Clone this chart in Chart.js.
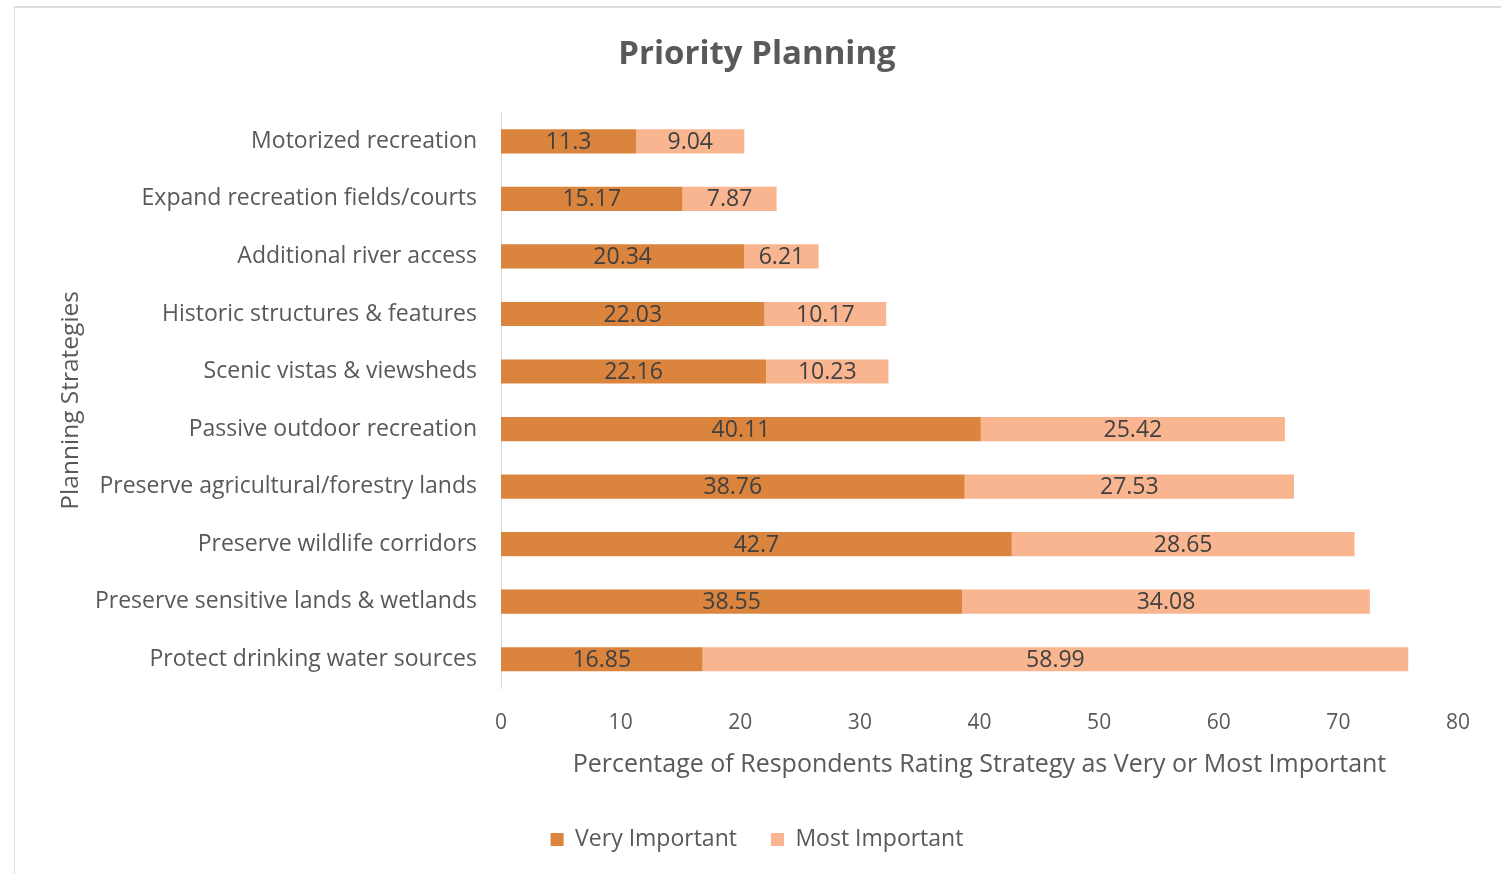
<!DOCTYPE html>
<html>
<head>
<meta charset="utf-8">
<title>Priority Planning</title>
<script src="https://cdn.jsdelivr.net/npm/chart.js@4.4.1/dist/chart.umd.min.js"></script>
<style>
  html, body { margin: 0; padding: 0; background: #fff; }
  #wrap { position: relative; width: 1501px; height: 874px; overflow: hidden; }
  #frame { position: absolute; left: 14px; top: 6px; right: -2px; bottom: -2px;
           border-top: 2px solid #dcdcdc; border-left: 1px solid #dcdcdc; }
  #chart { position: absolute; left: 0; top: 0; }
</style>
</head>
<body>
<div id="wrap">
  <div id="frame"></div>
  <canvas id="chart" width="1501" height="874"></canvas>
</div>
<script>
// Priority Planning - stacked horizontal bars

var strategies = [
  'Motorized recreation',
  'Expand recreation fields/courts',
  'Additional river access',
  'Historic structures & features',
  'Scenic vistas & viewsheds',
  'Passive outdoor recreation',
  'Preserve agricultural/forestry lands',
  'Preserve wildlife corridors',
  'Preserve sensitive lands & wetlands',
  'Protect drinking water sources'
];
var veryImportant = [11.3, 15.17, 20.34, 22.03, 22.16, 40.11, 38.76, 42.7, 38.55, 16.85];
var mostImportant = [9.04, 7.87, 6.21, 10.17, 10.23, 25.42, 27.53, 28.65, 34.08, 58.99];
var xTicks = [0, 10, 20, 30, 40, 50, 60, 70, 80];

var FONT = "'Open Sans', 'Noto Sans', sans-serif";
var TEXT = '#595959';
var DARK = '#DB843D';
var LIGHT = '#F8B58F';

// labels in the middle of each segment
var segmentLabels = {
  id: 'segmentLabels',
  afterDatasetsDraw: function (chart) {
    var ctx = chart.ctx;
    ctx.save();
    ctx.fillStyle = '#404040';
    ctx.font = '23px ' + FONT;
    ctx.textAlign = 'center';
    ctx.textBaseline = 'middle';
    chart.data.datasets.forEach(function (ds, di) {
      chart.getDatasetMeta(di).data.forEach(function (bar, i) {
        var p = bar.getProps(['x', 'y', 'base'], true);
        ctx.fillText(String(ds.data[i]), (p.x + p.base) / 2, p.y + 1);
      });
    });
    ctx.restore();
  }
};

new Chart(document.getElementById('chart').getContext('2d'), {
  type: 'bar',
  data: {
    labels: strategies,
    datasets: [
      { label: 'Very Important', data: veryImportant, backgroundColor: DARK,
        categoryPercentage: 1, barPercentage: 0.42 },
      { label: 'Most Important', data: mostImportant, backgroundColor: LIGHT,
        categoryPercentage: 1, barPercentage: 0.42 }
    ]
  },
  options: {
    indexAxis: 'y',
    responsive: false,
    devicePixelRatio: 1,
    animation: false,
    layout: { padding: { left: 56, right: 43, top: 0, bottom: 13 } },
    plugins: {
      title: {
        display: true, text: 'Priority Planning', color: TEXT,
        font: { family: FONT, size: 33, weight: 'bold' },
        padding: { top: 35, bottom: 38 }
      },
      legend: {
        display: true, position: 'bottom',
        labels: { color: TEXT, boxWidth: 13, boxHeight: 13, padding: 34,
                  font: { family: FONT, size: 23 } }
      },
      tooltip: { enabled: false }
    },
    scales: {
      x: {
        stacked: true, min: 0, max: 80,
        afterBuildTicks: function (scale) {
          scale.ticks = xTicks.map(function (v) { return { value: v }; });
        },
        afterFit: function (scale) { scale.height = 106; },
        grid: { display: false },
        border: { display: false },
        ticks: { color: TEXT, padding: 14, font: { family: FONT, size: 21 } },
        title: { display: true, text: 'Percentage of Respondents Rating Strategy as Very or Most Important',
                 color: TEXT, padding: { top: 4, bottom: 14 }, font: { family: FONT, size: 25 } }
      },
      y: {
        stacked: true,
        afterFit: function (scale) { scale.width = 445; },
        grid: { display: false },
        border: { display: true, color: '#d9d9d9', width: 1 },
        ticks: { color: TEXT, padding: 16, font: { family: FONT, size: 23 } },
        title: { display: true, text: 'Planning Strategies', color: TEXT,
                 padding: { top: 0, bottom: 0 }, font: { family: FONT, size: 24.5 } }
      }
    }
  },
  plugins: [segmentLabels]
});
</script>
</body>
</html>
